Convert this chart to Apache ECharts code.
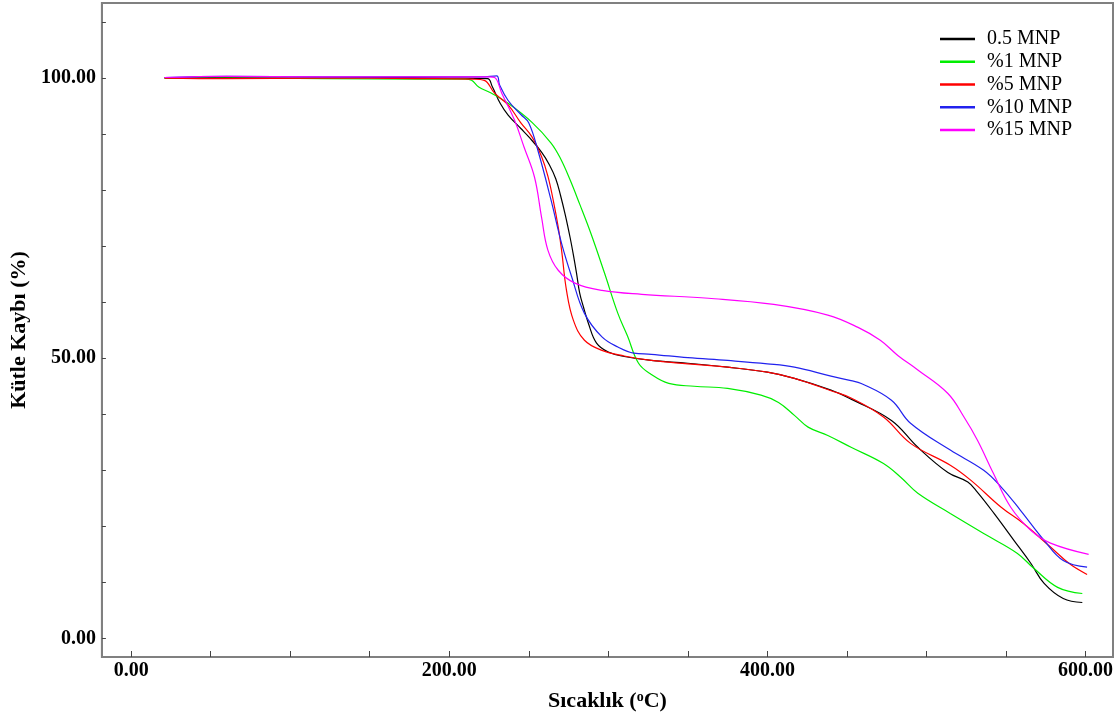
<!DOCTYPE html>
<html>
<head>
<meta charset="utf-8">
<script src="https://cdn.jsdelivr.net/npm/echarts@6/dist/echarts.min.js"></script>
<style>
* { margin: 0; padding: 0; }
#chart-container { width: 1116px; height: 719px; background: #fff; }
</style>
</head>
<body>
<div id="chart-container"></div>
<script>
// [temperature °C, mass %]
const mnp05 = [
  [21, 100], [50, 100.1], [100, 100], [150, 100.1], [200, 100], [224, 99.9], [227, 98.5],
  [232, 95.5], [237, 93.4], [245, 91], [250, 89.5], [258, 86.8], [263, 84.5], [267, 82],
  [270, 79], [273, 75.5], [276, 71.5], [278, 68.5], [280, 65.2], [282, 61.6], [284.4, 59.1],
  [287.5, 56.2], [292.6, 52.7], [300, 51.1], [310, 50.3], [327, 49.6], [350, 49.1],
  [375, 48.4], [400, 47.5], [417, 46.4], [440, 44.3], [452.6, 42.7], [478, 38.9],
  [494.6, 34.1], [513.5, 29.6], [526, 27.9], [532, 26.1], [542.5, 22.3], [555, 17.5],
  [565.6, 13.4], [574, 9.8], [586, 7.1], [598, 6.4]
]
const mnp1 = [
  [21, 100], [60, 100], [120, 99.9], [180, 99.8], [210, 99.8], [214, 99.6], [218.5, 98.4],
  [226.6, 97.3], [237, 95.5], [252, 92.1], [264, 88.4], [270, 85.6], [276, 81.8],
  [282, 77.5], [289, 72.3], [297.6, 65.2], [306, 58], [312, 54], [319, 49.1], [327, 47.1],
  [338, 45.5], [354, 45], [375, 44.6], [396, 43.4], [407, 42.1], [417, 39.8],
  [425.6, 37.7], [438, 36.2], [452.6, 34.1], [473, 31.2], [484, 28.7], [494.6, 25.9],
  [515, 22.3], [536, 18.7], [557, 15.2], [567.5, 12.5], [582.5, 9.1], [598, 8]
]
const mnp5 = [
  [21, 100], [60, 99.9], [120, 100], [180, 99.9], [215, 99.8], [222, 99.6], [228.5, 97.3],
  [237, 95.2], [245, 92], [252, 89.5], [258, 86], [262, 82.5], [265.5, 78],
  [268.5, 73.4], [270.6, 69.3], [273.7, 62.1], [278, 56.8], [285, 53.2], [296, 51.4],
  [310, 50.4], [327, 49.6], [350, 49], [375, 48.4], [400, 47.5], [417, 46.4], [440, 44.2],
  [452.6, 42.9], [473, 39.5], [490, 34.8], [515, 30.9], [528, 28.2], [547, 23.4],
  [561, 20.5], [578, 16.3], [590, 13.3], [601, 11.4]
]
const mnp10 = [
  [21, 100.1], [60, 100.3], [120, 100.2], [180, 100.2], [220, 100.2], [229.8, 100.4],
  [231.6, 98.8], [237, 96], [245, 93.5], [250, 92], [256, 86.8], [264, 78.2],
  [270.6, 70.5], [277, 64.5], [285, 58], [296, 53.8], [306, 52], [316, 50.9], [327, 50.7],
  [350, 50.1], [375, 49.6], [400, 49], [417, 48.4], [440, 46.8], [452.6, 46], [459, 45.5],
  [478, 42.5], [490, 38.4], [515, 33.6], [536, 30], [547, 27], [559, 22.9], [574, 17.5],
  [586, 13.9], [601, 12.7]
]
const mnp15 = [
  [21, 100.1], [60, 100.3], [120, 100.2], [180, 100.2], [225, 100.2], [228.5, 100.1],
  [233, 97.3], [241, 92.5], [247, 87.7], [253.6, 82.3], [258, 75.2], [262, 69.3],
  [268.5, 65.7], [279, 63.4], [296, 62.1], [321, 61.4], [363, 60.7], [404, 59.6],
  [438, 57.7], [457, 55.5], [471, 53.2], [482, 50.5], [494.6, 47.9], [513.5, 43.7],
  [523.6, 39.5], [532, 35.4], [542, 29.5], [553, 23.4], [565.6, 19.3], [578, 17], [602, 15]
]

const seriesNames = ['0.5 MNP', '%1 MNP', '%5 MNP', '%10 MNP', '%15 MNP']
const seriesData = [mnp05, mnp1, mnp5, mnp10, mnp15]
const seriesColors = ['#000000', '#00ee00', '#ff0000', '#2222ee', '#ff00ff']

const xTicks = [0, 50, 100, 150, 200, 250, 300, 350, 400, 450, 500, 550, 600]
const xLabels = [0, 200, 400, 600]
const yTicks = [0, 10, 20, 30, 40, 50, 60, 70, 80, 90, 100, 110]
const yLabels = [0, 50, 100]

const font = '"Liberation Serif", "Times New Roman", serif'
const chart = echarts.init(document.getElementById('chart-container'))

chart.setOption({
  animation: false,
  grid: {
    left: 100, right: 3, top: 3, bottom: 62,
    show: true, borderColor: '#808080', borderWidth: 2
  },
  legend: {
    orient: 'vertical',
    left: 935,
    top: 24,
    icon: 'rect',
    itemWidth: 35,
    itemHeight: 2.5,
    itemGap: 2.75,
    data: seriesNames,
    textStyle: { fontFamily: font, fontSize: 20, color: '#000', lineHeight: 20, padding: [0, 0, 0, 7] }
  },
  xAxis: {
    type: 'value',
    min: -18.4,
    max: 617.3,
    name: '{a|Sıcaklık (}{s|o}{a|C)}',
    nameLocation: 'middle',
    nameGap: 33,
    nameTextStyle: {
      rich: {
        a: { fontFamily: font, fontSize: 22, fontWeight: 'bold', color: '#000' },
        s: { fontFamily: font, fontSize: 14, fontWeight: 'bold', color: '#000', verticalAlign: 'top', padding: [0, 0, 8, 0] }
      }
    },
    axisLine: { onZero: false, lineStyle: { color: '#808080', width: 2 } },
    axisTick: { inside: true, length: 6, customValues: xTicks, lineStyle: { color: '#444' } },
    axisLabel: {
      customValues: xLabels,
      margin: 4,
      fontFamily: font, fontSize: 20, fontWeight: 'bold', color: '#000',
      formatter: v => v.toFixed(2)
    },
    splitLine: { show: false }
  },
  yAxis: {
    type: 'value',
    min: -3.33,
    max: 113.4,
    name: 'Kütle Kaybı (%)',
    nameLocation: 'middle',
    nameGap: 66,
    nameTextStyle: { fontFamily: font, fontSize: 22, fontWeight: 'bold', color: '#000' },
    axisLine: { show: true, onZero: false, lineStyle: { color: '#808080', width: 2 } },
    axisTick: { show: true, inside: true, length: 4, customValues: yTicks, lineStyle: { color: '#444' } },
    axisLabel: {
      customValues: yLabels,
      margin: 6,
      fontFamily: font, fontSize: 20, fontWeight: 'bold', color: '#000',
      formatter: v => v.toFixed(2)
    },
    splitLine: { show: false }
  },
  series: seriesNames.map((name, i) => ({
    name: name,
    type: 'line',
    data: seriesData[i],
    showSymbol: false,
    symbol: 'none',
    smooth: 0.4,
    color: seriesColors[i],
    lineStyle: { width: 1.2, color: seriesColors[i] }
  }))
})
</script>
</body>
</html>
